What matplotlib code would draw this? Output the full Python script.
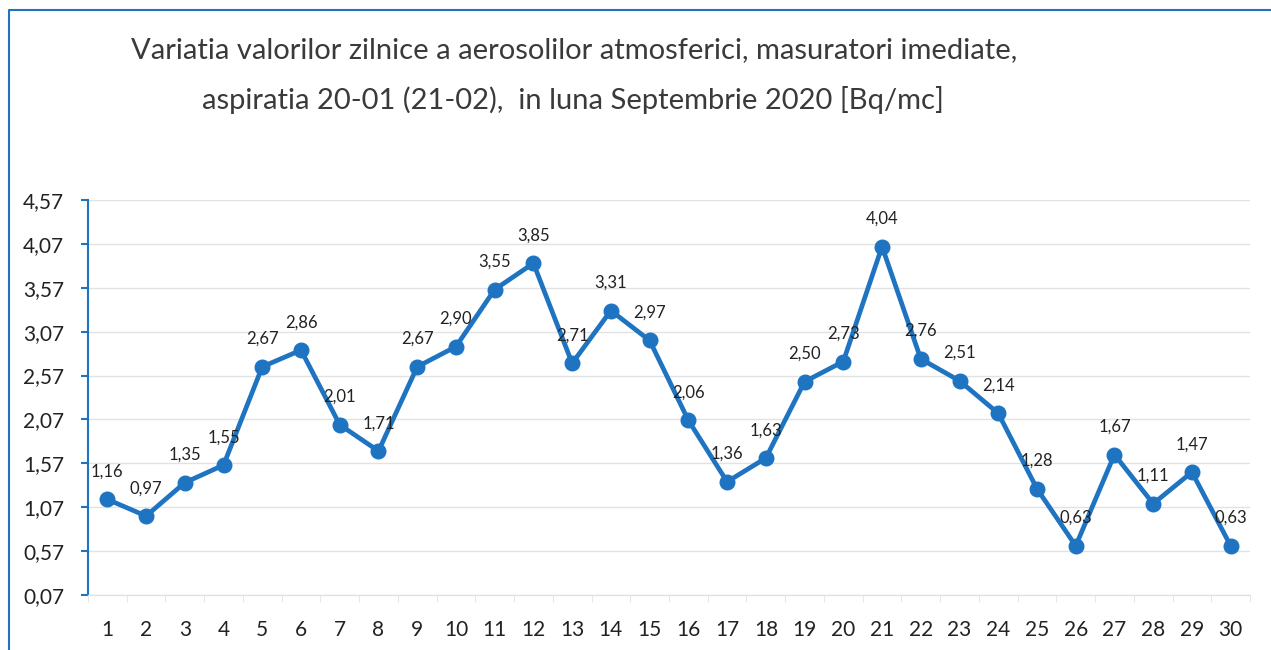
import matplotlib.pyplot as plt
from matplotlib.lines import Line2D

zile = list(range(1, 31))
valori = [1.16, 0.97, 1.35, 1.55, 2.67, 2.86, 2.01, 1.71, 2.67, 2.90,
          3.55, 3.85, 2.71, 3.31, 2.97, 2.06, 1.36, 1.63, 2.50, 2.73,
          4.04, 2.76, 2.51, 2.14, 1.28, 0.63, 1.67, 1.11, 1.47, 0.63]
y_ticks = [0.07, 0.57, 1.07, 1.57, 2.07, 2.57, 3.07, 3.57, 4.07, 4.57]

titlu1 = "Variatia valorilor zilnice a aerosolilor atmosferici, masuratori imediate,"
titlu2 = "aspiratia 20-01 (21-02),  in luna Septembrie 2020 [Bq/mc]"

albastru = "#1f74c2"
plt.rcParams['font.family'] = ['Lato', 'DejaVu Sans']

fig = plt.figure(figsize=(12.71, 6.5), dpi=100)
ax = fig.add_axes([0.0692, 0.0846, 0.9143, 0.6077])

ax.plot(zile, valori, color=albastru, lw=3.4, marker='o', ms=10.5,
        markerfacecolor=albastru, markeredgecolor=albastru, zorder=3)

for x, v in zip(zile, valori):
    ax.annotate(("%.2f" % v).replace('.', ','), (x, v), xytext=(0, 20),
                textcoords='offset points', ha='center', va='center',
                fontsize=12, color='#222222', zorder=4)

ax.set_xlim(0.5, 30.5)
ax.set_ylim(0.07, 4.57)
ax.set_yticks(y_ticks)
ax.set_yticklabels([("%.2f" % t).replace('.', ',') for t in y_ticks])
ax.set_xticks(zile)
ax.set_xticks([i + 0.5 for i in range(0, 31)], minor=True)
ax.grid(axis='y', color='#e2e2e2', lw=1)
ax.set_axisbelow(True)

for s in ['top', 'right']:
    ax.spines[s].set_visible(False)
ax.spines['left'].set_color(albastru)
ax.spines['left'].set_linewidth(1.5)
ax.spines['bottom'].set_color('#e2e2e2')
ax.spines['bottom'].set_linewidth(1)

ax.tick_params(axis='y', colors=albastru, length=5, width=1.5, labelsize=15,
               labelcolor='#222222', pad=12)
ax.tick_params(axis='x', which='major', length=0, labelsize=15,
               labelcolor='#222222', pad=18)
ax.tick_params(axis='x', which='minor', length=5, color='#e2e2e2')

fig.text(0.452, 0.923, titlu1, ha='center', va='center', fontsize=21,
         color='#3a3a3a')
fig.text(0.451, 0.846, titlu2, ha='center', va='center', fontsize=21,
         color='#3a3a3a')

# chenar albastru (stanga si sus)
fig.add_artist(Line2D([0.007, 0.007, 1.0], [0.0, 0.984, 0.984],
                      transform=fig.transFigure, color=albastru, lw=1.5))

fig.savefig("out.png", dpi=100)
